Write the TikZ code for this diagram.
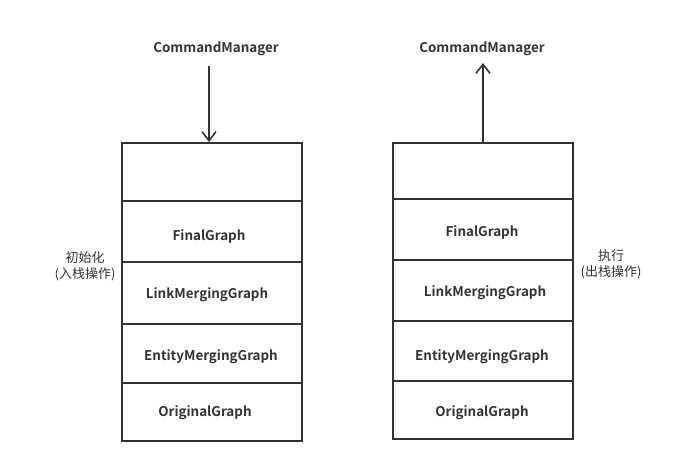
\documentclass[tikz,border=0pt]{standalone}
\usepackage{fontspec}
\setmainfont{Noto Sans CJK SC}[BoldFont={Noto Sans CJK SC Bold}]
\usetikzlibrary{arrows.meta}
\definecolor{ink}{HTML}{333333}
\begin{document}
\begin{tikzpicture}[x=1pt,y=-1pt,
  cell/.style={draw=ink,line width=1.6pt,minimum width=180pt,inner sep=0pt,anchor=north west},
  lbl/.style={font=\fontsize{13.4}{15}\selectfont\bfseries,text=ink,inner sep=0pt},
  side/.style={font=\fontsize{13}{16}\selectfont,text=ink,align=center,inner sep=0pt},
  arr/.style={draw=ink,line width=1.6pt,-{Straight Barb[length=9pt,width=14pt,line width=1.6pt]}}]
\useasboundingbox (0,0) rectangle (696,465);
% left stack
\node[cell,minimum height=58pt] (l0) at (121,142) {};
\node[cell,minimum height=61pt] (l1) at (121,200) {};
\node[cell,minimum height=62pt] (l2) at (121,261) {};
\node[cell,minimum height=59pt] (l3) at (121,323) {};
\node[cell,minimum height=58pt] (l4) at (121,382) {};
\node[lbl] (l1t) at (209,237) {FinalGraph};
\node[lbl] (l2t) at (207,295) {LinkMergingGraph};
\node[lbl] (l3t) at (211,357) {EntityMergingGraph};
\node[lbl] (l4t) at (205,413) {OriginalGraph};
% right stack
\node[cell,minimum height=56pt] (r0) at (392,142) {};
\node[cell,minimum height=61pt] (r1) at (392,198) {};
\node[cell,minimum height=61pt] (r2) at (392,259) {};
\node[cell,minimum height=60pt] (r3) at (392,320) {};
\node[cell,minimum height=58pt] (r4) at (392,380) {};
\node[lbl] (r1t) at (482,233) {FinalGraph};
\node[lbl] (r2t) at (485,293) {LinkMergingGraph};
\node[lbl] (r3t) at (482,357) {EntityMergingGraph};
\node[lbl] (r4t) at (482,413) {OriginalGraph};
% top labels
\node[lbl] (cml) at (216,49) {CommandManager};
\node[lbl] (cmr) at (482,49) {CommandManager};
\coordinate (la) at (209,66);
\coordinate (ra) at (483,63);
\draw[arr] (la) -- (la |- l0.north);
\draw[arr] (ra |- r0.north) -- (ra);
% side labels
\node[side] (sl) at (85,266) {初始化\\(入栈操作)};
\node[side] (sr) at (611,264) {执行\\(出栈操作)};
\end{tikzpicture}
\end{document}
